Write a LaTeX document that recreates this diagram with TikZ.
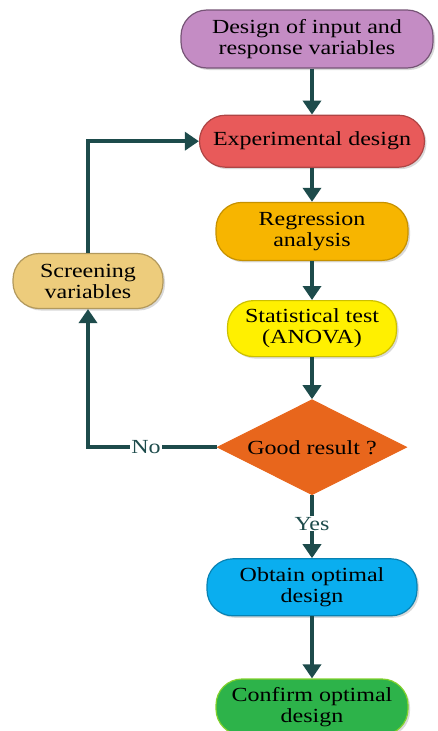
\documentclass[tikz,border=0pt]{standalone}
\usepackage{fontspec}
\setmainfont{Liberation Serif}[FakeStretch=1.2]
\usetikzlibrary{shapes.geometric, arrows.meta, positioning, shadows}

\definecolor{linecol}{HTML}{1D4B4B}
\definecolor{inputcol}{HTML}{C48CC4}
\definecolor{expcol}{HTML}{E85A5A}
\definecolor{regcol}{HTML}{F7B500}
\definecolor{statcol}{HTML}{FFF000}
\definecolor{goodcol}{HTML}{E8661C}
\definecolor{screencol}{HTML}{EDCC7C}
\definecolor{obtaincol}{HTML}{0AAEEF}
\definecolor{confirmcol}{HTML}{2DB34A}

\begin{document}
\begin{tikzpicture}[node distance = 40pt]
\tikzstyle{block} = [rectangle, rounded corners = 26pt, line width = 1.2pt, align = center, font = \fontsize{20}{21}\selectfont, inner sep = 2pt, drop shadow = {opacity = 0.3, shadow xshift = 2pt, shadow yshift = -2pt}]
\tikzstyle{decide} = [diamond, aspect = 2, line width = 1pt, font = \fontsize{20}{21}\selectfont, inner sep = 0pt, minimum width = 189pt, minimum height = 95pt]
\tikzstyle{connect} = [-{Triangle[width = 18pt, length = 14pt]}, line width = 4pt, draw = linecol]
\tikzstyle{tag} = [fill = white, text = linecol, font = \fontsize{20}{21}\selectfont, inner sep = 1pt]
\useasboundingbox (0,0) rectangle (438pt,-731pt);
  \node[block, fill = inputcol, draw = inputcol!60!black, minimum width = 252pt, minimum height = 58pt] (input) at (307pt,-39pt) {Design of input and\\response variables};
  \node[block, fill = expcol, draw = expcol!75!black, minimum width = 225pt, minimum height = 52pt, below = 46pt of input, xshift = 5pt] (exp) {Experimental design};
  \node[block, fill = regcol, draw = regcol!80!black, minimum width = 192pt, minimum height = 58pt, below = 34pt of exp] (reg) {Regression\\analysis};
  \node[block, fill = statcol, draw = statcol!80!black, minimum width = 169pt, minimum height = 56pt, below = 39pt of reg] (stat) {Statistical test\\(ANOVA)};
  \node[decide, fill = goodcol, draw = goodcol, below = 42pt of stat] (good) {Good result ?};
  \node[block, fill = obtaincol, draw = obtaincol!75!black, minimum width = 210pt, minimum height = 57pt, below = 63pt of good] (obtain) {Obtain optimal\\design};
  \node[block, fill = confirmcol, draw = confirmcol!60!yellow, minimum width = 192pt, minimum height = 56pt, below = 62pt of obtain] (confirm) {Confirm optimal\\design};
  \node[block, fill = screencol, draw = screencol!75!black, minimum width = 150pt, minimum height = 55pt] (screen) at (88pt,-281pt) {Screening\\variables};
\draw[connect] (input.south -| exp.north) -- (exp);
\path (exp) edge [connect] (reg) (reg) edge [connect] (stat) (stat) edge [connect] (good);
\draw[connect] (good) -- node[tag, pos = 0.45] {Yes} (obtain);
\path (obtain) edge [connect] (confirm);
\draw[connect] (good.west) -- node[tag, pos = 0.55] {No} (good.west -| screen.south) -- (screen.south);
\draw[connect] (screen.north) |- (exp.west);
\end{tikzpicture}
\end{document}
